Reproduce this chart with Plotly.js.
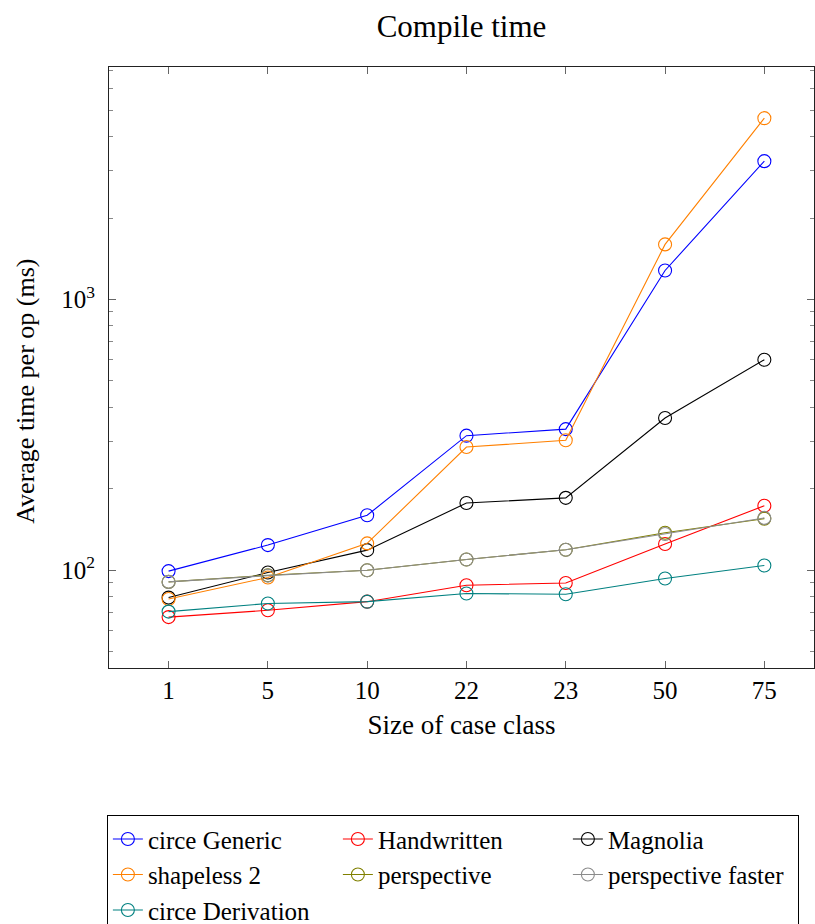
<!DOCTYPE html>
<html>
<head>
<meta charset="utf-8">
<script src="https://cdn.plot.ly/plotly-3.0.1.min.js"></script>
<style>html,body{margin:0;padding:0;background:#fff;}#chart{width:815px;height:924px;}</style>
</head>
<body>
<div id="chart"></div>
<script>
const categories = ['1', '5', '10', '22', '23', '50', '75'];
const circeGeneric = [99.2, 123.8, 159.5, 314, 332, 1280, 3245];
const handwritten = [67.1, 71.1, 76.5, 88, 89.7, 125, 173];
const magnolia = [79.2, 98, 118.6, 177, 185, 365, 599];
const shapeless2 = [78.3, 94, 125.6, 285, 302, 1598, 4677];
const perspective = [90.5, 95.8, 100, 109.5, 119, 137.5, 155];
const perspectiveFaster = [90.5, 95.5, 100, 109.5, 119, 136, 156];
const circeDerivation = [70.3, 75.3, 76.5, 82, 81.5, 93.2, 104.1];

const seriesNames = ['circe Generic', 'Handwritten', 'Magnolia', 'shapeless 2', 'perspective', 'perspective faster', 'circe Derivation'];
const seriesValues = [circeGeneric, handwritten, magnolia, shapeless2, perspective, perspectiveFaster, circeDerivation];
const seriesColors = ['#0000ff', '#ff0000', '#000000', '#ff8000', '#808000', '#8c8c8c', '#008080'];

const yMajorTicks = [100, 1000];
const yMajorText = ['10<sup>2</sup>', '10<sup>3</sup>'];
const yMinorTicks = [50, 60, 70, 80, 90, 200, 300, 400, 500, 600, 700, 800, 900, 2000, 3000, 4000, 5000, 6000, 7000];

const FONT = 'Liberation Serif';

const traces = seriesNames.map((name, i) => ({
  type: 'scatter',
  mode: 'lines+markers',
  name: name,
  x: categories,
  y: seriesValues[i],
  line: {color: seriesColors[i], width: 1.1},
  marker: {symbol: 'circle-open', size: 13, color: seriesColors[i], line: {width: 1.1, color: seriesColors[i]}}
}));

const layout = {
  width: 815,
  height: 924,
  margin: {l: 109, r: 1, t: 67, b: 256, autoexpand: false},
  paper_bgcolor: '#fff',
  plot_bgcolor: '#fff',
  font: {family: FONT, size: 25, color: '#000'},
  title: {text: 'Compile time', font: {family: FONT, size: 31, color: '#000'}, x: 0.5, xref: 'paper', xanchor: 'center', y: 0.972, yref: 'container', yanchor: 'middle'},
  xaxis: {
    type: 'category',
    range: [-0.6, 6.5],
    showline: true, linecolor: '#222', linewidth: 1, mirror: 'ticks',
    ticks: 'inside', ticklen: 7, tickcolor: '#666', tickwidth: 1,
    showgrid: false, zeroline: false, automargin: false,
    tickfont: {family: FONT, size: 25},
    title: {text: 'Size of case class', font: {family: FONT, size: 27}, standoff: 12}
  },
  yaxis: {
    type: 'log',
    range: [1.6386, 3.859],
    showline: true, linecolor: '#222', linewidth: 1, mirror: 'ticks',
    ticks: 'inside', ticklen: 7, tickcolor: '#666', tickwidth: 1,
    tickmode: 'array', tickvals: yMajorTicks, ticktext: yMajorText,
    ticklabelstandoff: 8,
    minor: {tickmode: 'array', tickvals: yMinorTicks, ticks: 'inside', ticklen: 4, tickcolor: '#888', tickwidth: 1, showgrid: false},
    showgrid: false, zeroline: false, automargin: false,
    tickfont: {family: FONT, size: 25}
  },
  annotations: [{
    text: 'Average time per op (ms)', textangle: -90,
    xref: 'paper', yref: 'paper', x: -0.118, y: 0.461,
    xanchor: 'center', yanchor: 'middle', showarrow: false,
    font: {family: FONT, size: 26, color: '#000'}
  }],
  showlegend: true,
  legend: {
    orientation: 'h',
    x: -0.003, xanchor: 'left', xref: 'paper',
    y: -0.245, yanchor: 'top', yref: 'paper',
    bordercolor: '#000', borderwidth: 1, bgcolor: '#fff',
    font: {family: FONT, size: 25, color: '#000'},
    entrywidth: 185, entrywidthmode: 'pixels',
    traceorder: 'normal'
  }
};

Plotly.newPlot('chart', traces, layout, {displayModeBar: false, staticPlot: true});
</script>
</body>
</html>
